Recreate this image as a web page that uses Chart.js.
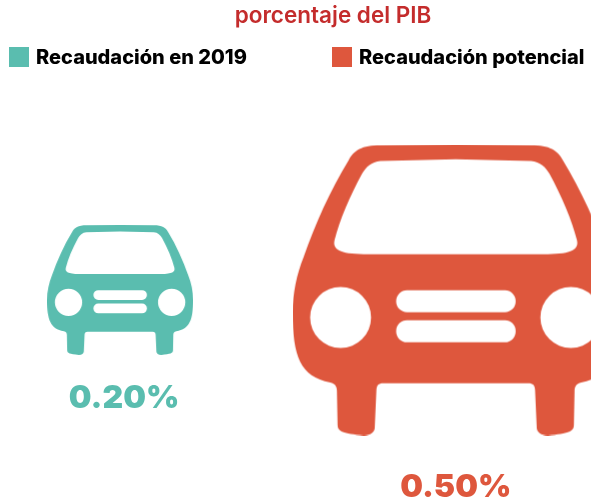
<!DOCTYPE html>
<html lang="es">
<head>
<meta charset="utf-8">
<title>porcentaje del PIB</title>
<script src="https://cdn.jsdelivr.net/npm/chart.js@4"></script>
<style>
  body { margin: 0; background: #fff; }
  #wrap { position: relative; width: 591px; height: 502px; overflow: hidden; }
  .item { position: absolute; top: 46px; display: flex; align-items: center; height: 21px;
          font: 800 20px Inter, sans-serif; color: #000; white-space: nowrap; }
  .item i { display: block; width: 20px; height: 20px; margin-right: 7px; }
</style>
</head>
<body>
<div id="wrap">
  <canvas id="grafico" width="591" height="502"></canvas>
</div>
<script>
// datos del grafico
const categorias = ['Recaudación en 2019', 'Recaudación potencial'];
const valores = [0.20, 0.50];
const colores = ['#5abdaf', '#de573d'];
const titulo = 'porcentaje del PIB';

// ancho del coche en pixeles segun el valor
function anchoCoche(v) {
  return 26 + 600 * v;
}

// contorno del coche, dibujado en una caja de 974 x 868
function pathCoche() {
  const p = new Path2D();
  p.moveTo(487, 0);
  p.lineTo(262, 2);
  p.bezierCurveTo(207, 2, 182, 17, 167, 47);
  p.bezierCurveTo(112, 137, 67, 237, 32, 337);
  p.bezierCurveTo(12, 387, 0, 442, 0, 502);
  p.bezierCurveTo(0, 632, 22, 692, 112, 710);
  p.bezierCurveTo(127, 714, 132, 722, 132, 735);
  p.lineTo(134, 837);
  p.bezierCurveTo(135, 858, 150, 862, 212, 868);
  p.bezierCurveTo(232, 868, 245, 858, 245, 845);
  p.lineTo(250, 732);
  p.bezierCurveTo(251, 718, 256, 712, 270, 712);
  p.lineTo(704, 712);
  p.bezierCurveTo(718, 712, 723, 718, 724, 732);
  p.lineTo(729, 845);
  p.bezierCurveTo(729, 858, 742, 868, 762, 868);
  p.bezierCurveTo(824, 862, 839, 858, 840, 837);
  p.lineTo(842, 735);
  p.bezierCurveTo(842, 722, 847, 714, 862, 710);
  p.bezierCurveTo(952, 692, 974, 632, 974, 502);
  p.bezierCurveTo(974, 442, 962, 387, 942, 337);
  p.bezierCurveTo(907, 237, 862, 137, 807, 47);
  p.bezierCurveTo(792, 17, 767, 2, 712, 2);
  p.closePath();
  // parabrisas
  p.moveTo(487, 44);
  p.lineTo(262, 49);
  p.bezierCurveTo(235, 51, 218, 68, 207, 87);
  p.bezierCurveTo(170, 155, 140, 225, 125, 285);
  p.bezierCurveTo(118, 312, 140, 327, 212, 327);
  p.lineTo(762, 327);
  p.bezierCurveTo(834, 327, 856, 312, 849, 285);
  p.bezierCurveTo(834, 225, 804, 155, 767, 87);
  p.bezierCurveTo(756, 68, 739, 51, 712, 49);
  p.closePath();
  // faros
  p.moveTo(234, 516);
  p.arc(143, 516, 91, 0, Math.PI * 2);
  p.moveTo(922, 516);
  p.arc(831, 516, 91, 0, Math.PI * 2);
  // rejilla
  p.roundRect(309, 435, 357, 65, 32);
  p.roundRect(309, 524, 357, 66, 32);
  return p;
}

// el coche como imagen para usarlo de pointStyle
function imagenCoche(v, color) {
  const w = anchoCoche(v);
  const c = document.createElement('canvas');
  c.width = w;
  c.height = Math.round(w * 868 / 974);
  const g = c.getContext('2d');
  g.scale(c.width / 974, c.height / 868);
  g.fillStyle = color;
  g.fill(pathCoche(), 'evenodd');
  return c;
}

// etiqueta con el valor debajo de cada coche
const ajusteEtiqueta = [4, 0];
const etiquetas = {
  id: 'etiquetas',
  afterDatasetsDraw(chart) {
    const ctx = chart.ctx;
    ctx.save();
    ctx.font = '900 32px Inter, sans-serif';
    ctx.textAlign = 'center';
    ctx.textBaseline = 'middle';
    chart.data.datasets.forEach((ds, i) => {
      const pt = chart.getDatasetMeta(i).data[0];
      const w = anchoCoche(valores[i]);
      ctx.fillStyle = colores[i];
      ctx.fillText(valores[i].toFixed(2) + '%', pt.x + ajusteEtiqueta[i], pt.y + w * 868 / 974 / 2 + 37 + w * 0.045);
    });
    ctx.restore();
  },
};

const ctx = document.getElementById('grafico').getContext('2d');
const chart = new Chart(ctx, {
  type: 'scatter',
  data: {
    datasets: categorias.map((nombre, i) => ({
      label: nombre,
      data: [{ x: i, y: 0 }],
      pointStyle: imagenCoche(valores[i], colores[i]),
      backgroundColor: colores[i],
      clip: false,
    })),
  },
  options: {
    responsive: false,
    animation: false,
    layout: { padding: { left: 75 } },
    scales: {
      x: { display: false, min: -0.1343, max: 1.3881 },
      y: { display: false, min: -1, max: 1 },
    },
    plugins: {
      legend: { display: false },
      tooltip: { enabled: false },
      title: {
        display: true,
        text: titulo,
        color: '#c42c2c',
        font: { family: 'Inter, sans-serif', size: 22.5, weight: '600' },
        padding: { top: 3, bottom: 53 },
      },
    },
  },
  plugins: [etiquetas],
});

// leyenda en html, con los huecos del original
const wrap = document.getElementById('wrap');
const posLeyenda = [9, 332];
categorias.forEach((nombre, i) => {
  const d = document.createElement('div');
  d.className = 'item';
  d.style.left = posLeyenda[i] + 'px';
  d.innerHTML = `<i style="background:${colores[i]}"></i>${nombre}`;
  wrap.appendChild(d);
});
</script>
</body>
</html>
